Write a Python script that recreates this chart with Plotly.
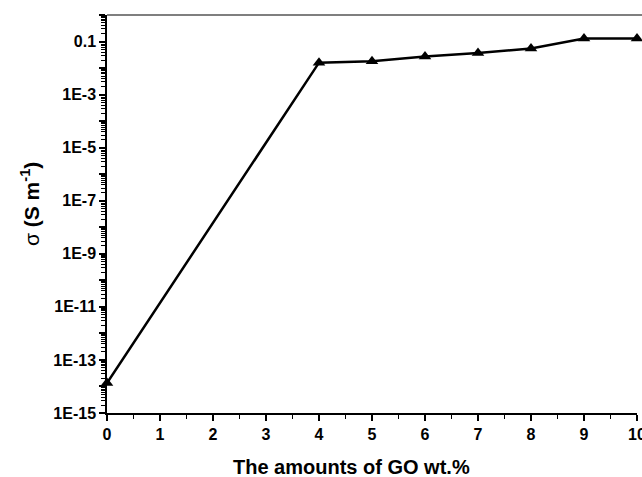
import plotly.graph_objects as go

go_wt = [0, 4, 5, 6, 7, 8, 9, 10]
sigma = [1.35e-14, 0.016, 0.018, 0.027, 0.037, 0.055, 0.13, 0.13]

y_tick_vals = [10.0 ** e for e in range(-15, 1)]
y_tick_text = ["1E-15", "", "1E-13", "", "1E-11", "", "1E-9", "", "1E-7", "",
               "1E-5", "", "1E-3", "", "0.1", ""]
x_tick_vals = list(range(0, 11))
x_tick_text = [str(v) for v in x_tick_vals]

x_title = "<b>The amounts of GO wt.%</b>"
y_title = "σ <b>(S m<sup>-1</sup>)</b>"

minor_y = [k * 10.0 ** e for e in range(-15, 0) for k in range(2, 10)]
minor_x = [v + 0.5 for v in range(0, 10)]

fig = go.Figure()
fig.add_trace(go.Scatter(
    x=go_wt, y=sigma, mode="lines+markers",
    line=dict(color="black", width=2.5),
    marker=dict(symbol="triangle-up", size=11, color="black"),
    cliponaxis=False, showlegend=False,
))

font = dict(family="Liberation Sans, Arial, sans-serif", color="black")

fig.update_layout(
    width=642, height=477,
    margin=dict(l=107, r=5, t=15, b=64),
    paper_bgcolor="white", plot_bgcolor="white",
    font=font,
    xaxis=dict(
        range=[0, 10], tickvals=x_tick_vals, ticktext=x_tick_text,
        ticks="outside", ticklen=6, tickwidth=1.5, tickcolor="black",
        showline=True, linecolor="black", linewidth=1.5, mirror=False,
        showgrid=False, zeroline=False, automargin=False,
        ticklabeloverflow="allow",
        tickfont=dict(size=16, family="Liberation Sans", color="black", weight="bold"),
        minor=dict(tickvals=minor_x, ticks="outside", ticklen=4, tickwidth=1.2, tickcolor="black", showgrid=False),
    ),
    yaxis=dict(
        type="log", range=[-15, 0], tickvals=y_tick_vals, ticktext=y_tick_text,
        ticks="outside", ticklen=6, tickwidth=1.5, tickcolor="black",
        showline=True, linecolor="black", linewidth=1.5,
        showgrid=False, zeroline=False, automargin=False,
        tickfont=dict(size=16, family="Liberation Sans", color="black", weight="bold"),
        minor=dict(tickvals=minor_y, ticks="outside", ticklen=4, tickwidth=1, tickcolor="black", showgrid=False),
    ),
    annotations=[
        dict(text=x_title, xref="paper", yref="paper", x=0.462, y=0, yshift=-54,
             xanchor="center", yanchor="middle", showarrow=False,
             font=dict(size=20, family="Liberation Sans", color="black")),
        dict(text=y_title, xref="paper", yref="paper", x=0, xshift=-77, y=0.525,
             xanchor="center", yanchor="middle", textangle=-90, showarrow=False,
             font=dict(size=21, family="Liberation Sans", color="black")),
    ],
)

fig.add_shape(type="line", xref="paper", yref="paper", x0=0, x1=1.01, y0=1, y1=1,
              line=dict(color="#555555", width=1.5))

fig.write_html("out.html", config={"displayModeBar": False})

with open("out.html", "r", encoding="utf-8") as f:
    html = f.read()
html = html.replace("<head>", "<head><style>html,body{margin:0;padding:0;overflow:hidden;}</style>", 1)
with open("out.html", "w", encoding="utf-8") as f:
    f.write(html)
